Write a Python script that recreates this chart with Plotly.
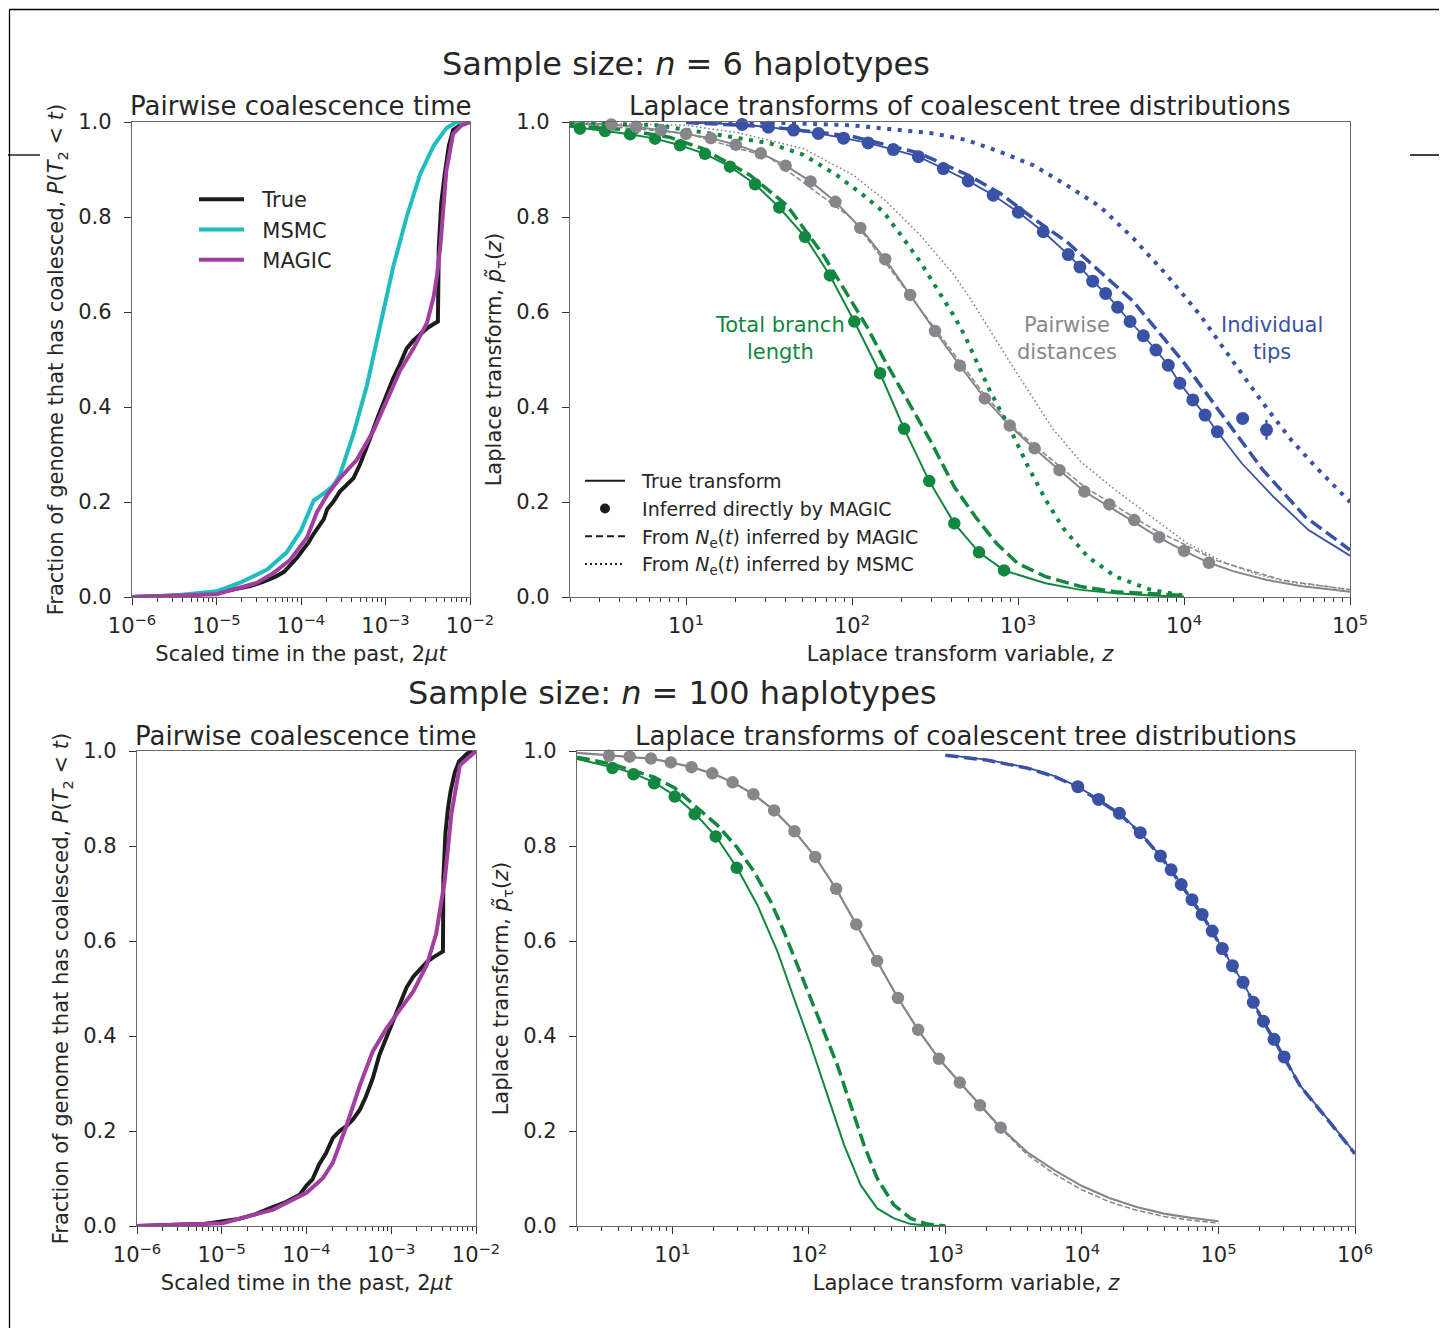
import plotly.graph_objects as go

W, H = 1447, 1328
OFF = 8  # the page body margin shifts the figure by 8 px; layout positions compensate for it
FONT = "DejaVu Sans"
TXT = "#262626"

# ---------------- DATA ----------------
# Top-left: pairwise coalescence time CDF, n = 6 (x given as log10 of scaled time 2*mu*t)
cdf6_true_logt = [-6.0, -5.6, -5.3, -5.0, -4.8, -4.6, -4.45, -4.3, -4.2, -4.13, -4.05, -3.97, -3.91, -3.85,
                  -3.79, -3.73, -3.69, -3.62, -3.54, -3.46, -3.38, -3.30, -3.24, -3.18, -3.10, -3.02, -2.96,
                  -2.91, -2.83, -2.75, -2.67, -2.59, -2.50, -2.41, -2.38, -2.37, -2.34, -2.30, -2.25, -2.2,
                  -2.1, -2.0]
cdf6_true_p = [0.0, 0.002, 0.004, 0.009, 0.015, 0.023, 0.032, 0.043, 0.053, 0.066, 0.082, 0.101, 0.115, 0.133,
               0.148, 0.164, 0.185, 0.2, 0.222, 0.235, 0.25, 0.28, 0.305, 0.335, 0.375, 0.413, 0.44,
               0.46, 0.49, 0.523, 0.54, 0.554, 0.567, 0.577, 0.58, 0.733, 0.83, 0.889, 0.95, 0.983,
               0.995, 1.0]
cdf6_msmc_logt = [-6.0, -5.5, -5.0, -4.72, -4.40, -4.17, -4.0, -3.85, -3.73, -3.62, -3.54, -3.38, -3.22,
                  -3.06, -2.91, -2.75, -2.59, -2.43, -2.28, -2.16, -2.0]
cdf6_msmc_p = [0.0, 0.003, 0.012, 0.03, 0.058, 0.094, 0.14, 0.203, 0.218, 0.234, 0.257, 0.343, 0.445,
               0.57, 0.694, 0.80, 0.89, 0.95, 0.987, 1.0, 1.0]
cdf6_magic_logt = [-6.0, -5.5, -5.0, -4.52, -4.33, -4.13, -3.93, -3.81, -3.69, -3.54, -3.34, -3.14, -2.99,
                   -2.83, -2.67, -2.51, -2.43, -2.39, -2.35, -2.32, -2.28, -2.20, -2.1, -2.0]
cdf6_magic_p = [0.0, 0.002, 0.006, 0.03, 0.05, 0.078, 0.125, 0.179, 0.215, 0.25, 0.289, 0.351, 0.413,
                0.476, 0.523, 0.577, 0.632, 0.678, 0.741, 0.819, 0.897, 0.975, 0.993, 1.0]

# Bottom-left: pairwise coalescence time CDF, n = 100
cdf100_true_logt = [-6.0, -5.5, -5.19, -4.80, -4.60, -4.40, -4.25, -4.08, -4.0, -3.93, -3.85, -3.77, -3.69,
                    -3.61, -3.53, -3.45, -3.37, -3.30, -3.22, -3.14, -3.06, -2.98, -2.90, -2.82, -2.74,
                    -2.66, -2.58, -2.50, -2.42, -2.39, -2.385, -2.36, -2.33, -2.30, -2.25, -2.2, -2.1, -2.0]
cdf100_true_p = [0.0, 0.002, 0.005, 0.015, 0.025, 0.04, 0.05, 0.066, 0.085, 0.098, 0.13, 0.153, 0.185,
                 0.2, 0.21, 0.225, 0.245, 0.272, 0.31, 0.36, 0.395, 0.431, 0.468, 0.502, 0.525,
                 0.542, 0.556, 0.566, 0.575, 0.578, 0.733, 0.828, 0.88, 0.915, 0.955, 0.978, 0.995, 1.0]
cdf100_magic_logt = [-6.0, -5.5, -4.99, -4.4, -4.0, -3.81, -3.69, -3.53, -3.37, -3.22, -3.06, -2.90, -2.74,
                     -2.58, -2.47, -2.37, -2.29, -2.19, -2.07, -2.0]
cdf100_magic_p = [0.0, 0.002, 0.006, 0.034, 0.07, 0.1, 0.133, 0.21, 0.296, 0.367, 0.415, 0.455, 0.494,
                  0.55, 0.615, 0.726, 0.868, 0.97, 0.99, 1.0]

# Top-right: Laplace transforms, n = 6 (x given as log10 z)
lap6_green_true_logz = [0.301, 0.361, 0.512, 0.663, 0.813, 0.964, 1.114, 1.265, 1.416, 1.562, 1.717, 1.867,
                        2.014, 2.169, 2.314, 2.465, 2.616, 2.765, 2.916, 3.166, 3.377, 3.588, 3.8, 4.0]
lap6_green_true_val = [0.990, 0.988, 0.981, 0.974, 0.965, 0.951, 0.933, 0.906, 0.869, 0.820, 0.758, 0.677,
                       0.580, 0.471, 0.354, 0.244, 0.155, 0.094, 0.056, 0.029, 0.015, 0.008, 0.003, 0.001]
lap6_green_dot_logz = [0.361, 0.512, 0.663, 0.813, 0.964, 1.114, 1.265, 1.416, 1.562, 1.717, 1.867, 2.014,
                       2.169, 2.314, 2.465, 2.616, 2.765, 2.916]
lap6_green_dot_val = [0.986, 0.981, 0.974, 0.965, 0.951, 0.933, 0.906, 0.869, 0.820, 0.758, 0.677, 0.580,
                      0.471, 0.354, 0.244, 0.155, 0.094, 0.056]
lap6_green_magic_logz = [0.301, 0.6, 0.9, 1.1, 1.386, 1.607, 1.827, 2.088, 2.194, 2.32, 2.469, 2.616, 2.743,
                         2.87, 2.997, 3.166, 3.377, 3.588, 4.0]
lap6_green_magic_val = [0.992, 0.985, 0.968, 0.944, 0.888, 0.825, 0.72, 0.57, 0.50, 0.422, 0.331, 0.232, 0.169,
                        0.113, 0.071, 0.043, 0.022, 0.011, 0.003]
lap6_green_msmc_logz = [0.301, 0.803, 1.145, 1.506, 1.707, 1.908, 2.068, 2.189, 2.309, 2.410, 2.510, 2.610,
                        2.680, 2.828, 2.955, 3.060, 3.166, 3.272, 3.419, 3.588, 3.80, 4.0]
lap6_green_msmc_val = [0.998, 0.994, 0.976, 0.955, 0.931, 0.888, 0.846, 0.811, 0.755, 0.706, 0.650, 0.594,
                       0.55, 0.436, 0.352, 0.275, 0.205, 0.145, 0.085, 0.043, 0.015, 0.003]

lap6_gray_true_logz = [0.301, 0.55, 0.70, 0.85, 1.0, 1.15, 1.30, 1.45, 1.60, 1.75, 1.90, 2.05, 2.20, 2.35,
                       2.50, 2.65, 2.80, 2.95, 3.10, 3.25, 3.40, 3.55, 3.70, 3.85, 4.00, 4.15, 4.3, 4.5, 4.7, 5.0]
lap6_gray_true_val = [0.998, 0.995, 0.99, 0.983, 0.975, 0.966, 0.952, 0.934, 0.908, 0.875, 0.832, 0.777, 0.711,
                      0.636, 0.56, 0.487, 0.418, 0.361, 0.312, 0.267, 0.222, 0.19, 0.158, 0.125, 0.097, 0.072,
                      0.054, 0.036, 0.023, 0.011]
lap6_gray_dot_logz = [0.55, 0.70, 0.85, 1.0, 1.15, 1.30, 1.45, 1.60, 1.75, 1.90, 2.05, 2.20, 2.35, 2.50, 2.65,
                      2.80, 2.95, 3.10, 3.25, 3.40, 3.55, 3.70, 3.85, 4.00, 4.15]
lap6_gray_dot_val = [0.995, 0.99, 0.983, 0.975, 0.966, 0.952, 0.934, 0.908, 0.875, 0.832, 0.777, 0.711, 0.636,
                     0.56, 0.487, 0.418, 0.361, 0.313, 0.267, 0.222, 0.195, 0.162, 0.126, 0.097, 0.072]
lap6_gray_magic_logz = [0.301, 1.0, 1.5, 2.0, 2.5, 2.8, 3.0, 3.4, 3.8, 4.2, 4.6, 5.0]
lap6_gray_magic_val = [0.998, 0.976, 0.926, 0.797, 0.565, 0.425, 0.348, 0.232, 0.146, 0.076, 0.035, 0.015]
lap6_gray_msmc_logz = [0.301, 1.0, 1.305, 1.707, 2.008, 2.209, 2.41, 2.61, 2.711, 2.955, 3.208, 3.377, 3.588,
                       3.80, 4.011, 4.222, 4.434, 4.645, 5.0]
lap6_gray_msmc_val = [0.999, 0.993, 0.978, 0.944, 0.888, 0.832, 0.762, 0.68, 0.629, 0.492, 0.355, 0.285, 0.225,
                      0.169, 0.115, 0.076, 0.048, 0.031, 0.016]

lap6_blue_true_logz = [1.0, 1.338, 1.496, 1.648, 1.797, 1.949, 2.097, 2.249, 2.40, 2.55, 2.70, 2.851, 3.002,
                       3.152, 3.303, 3.373, 3.45, 3.528, 3.60, 3.675, 3.755, 3.831, 3.905, 3.975, 4.053, 4.127,
                       4.201, 4.349, 4.539, 4.75, 5.0]
lap6_blue_true_val = [0.999, 0.995, 0.989, 0.983, 0.976, 0.966, 0.956, 0.942, 0.927, 0.902, 0.876, 0.846, 0.81,
                      0.769, 0.721, 0.695, 0.665, 0.639, 0.61, 0.58, 0.55, 0.52, 0.488, 0.45, 0.415, 0.383,
                      0.348, 0.281, 0.211, 0.141, 0.087]
lap6_blue_dot_logz = [1.338, 1.496, 1.648, 1.797, 1.949, 2.097, 2.249, 2.40, 2.55, 2.70, 2.851, 3.002, 3.152,
                      3.303, 3.373, 3.45, 3.528, 3.60, 3.675, 3.755, 3.831, 3.905, 3.975, 4.053, 4.127, 4.201,
                      4.353, 4.497]
lap6_blue_dot_val = [0.995, 0.989, 0.983, 0.976, 0.966, 0.956, 0.942, 0.927, 0.902, 0.876, 0.846, 0.81, 0.769,
                     0.721, 0.695, 0.665, 0.639, 0.61, 0.58, 0.55, 0.52, 0.488, 0.45, 0.415, 0.383, 0.348,
                     0.376, 0.352]
lap6_blue_dot_err = [0] * 26 + [0.008, 0.021]
lap6_blue_magic_logz = [1.0, 1.5, 2.0, 2.4, 2.7, 2.892, 3.092, 3.293, 3.494, 3.695, 3.896, 3.996, 4.222, 4.476,
                        4.73, 5.0]
lap6_blue_magic_val = [0.999, 0.99, 0.97, 0.935, 0.888, 0.85, 0.797, 0.748, 0.685, 0.622, 0.537, 0.495, 0.387,
                       0.267, 0.169, 0.099]
lap6_blue_msmc_logz = [1.0, 1.5, 2.0, 2.289, 2.490, 2.691, 2.892, 3.092, 3.293, 3.494, 3.695, 3.896, 4.096,
                       4.297, 4.476, 4.645, 4.793, 5.0]
lap6_blue_msmc_val = [1.0, 0.999, 0.993, 0.983, 0.976, 0.962, 0.937, 0.909, 0.867, 0.822, 0.755, 0.678, 0.594,
                      0.495, 0.408, 0.331, 0.274, 0.2]

# Bottom-right: Laplace transforms, n = 100
lap100_green_true_logz = [0.301, 0.561, 0.715, 0.866, 1.017, 1.163, 1.317, 1.471, 1.622, 1.769, 1.891, 2.013,
                          2.135, 2.257, 2.379, 2.50, 2.623, 2.745, 2.87, 3.0]
lap100_green_true_val = [0.983, 0.966, 0.953, 0.934, 0.906, 0.869, 0.821, 0.755, 0.676, 0.578, 0.479, 0.381,
                         0.276, 0.171, 0.086, 0.037, 0.016, 0.004, 0.001, 0.0]
lap100_green_dot_logz = [0.561, 0.715, 0.866, 1.017, 1.163, 1.317, 1.471]
lap100_green_dot_val = [0.964, 0.951, 0.932, 0.904, 0.867, 0.82, 0.754]
lap100_green_magic_logz = [0.301, 0.561, 0.866, 1.017, 1.159, 1.329, 1.476, 1.598, 1.720, 1.817, 1.915, 2.013,
                           2.11, 2.208, 2.305, 2.403, 2.50, 2.623, 2.745, 2.867, 3.0]
lap100_green_magic_val = [0.987, 0.972, 0.945, 0.922, 0.886, 0.844, 0.796, 0.746, 0.683, 0.62, 0.549, 0.479,
                          0.409, 0.339, 0.255, 0.171, 0.1, 0.044, 0.016, 0.004, 0.0]

lap100_gray_true_logz = [0.301, 0.535, 0.687, 0.843, 0.988, 1.140, 1.292, 1.441, 1.593, 1.745, 1.894, 2.046,
                         2.199, 2.347, 2.499, 2.652, 2.800, 2.952, 3.105, 3.253, 3.405, 3.6, 3.8, 4.0, 4.2, 4.4,
                         4.6, 4.8, 5.0]
lap100_gray_true_val = [0.996, 0.991, 0.988, 0.984, 0.976, 0.966, 0.953, 0.934, 0.909, 0.875, 0.831, 0.777,
                        0.710, 0.635, 0.558, 0.480, 0.413, 0.352, 0.302, 0.254, 0.207, 0.155, 0.117, 0.084,
                        0.059, 0.040, 0.026, 0.017, 0.010]
lap100_gray_dot_logz = [0.535, 0.687, 0.843, 0.988, 1.140, 1.292, 1.441, 1.593, 1.745, 1.894, 2.046, 2.199,
                        2.347, 2.499, 2.652, 2.800, 2.952, 3.105, 3.253, 3.405]
lap100_gray_dot_val = [0.990, 0.988, 0.984, 0.976, 0.966, 0.953, 0.934, 0.909, 0.875, 0.831, 0.777, 0.710,
                       0.635, 0.558, 0.480, 0.413, 0.352, 0.302, 0.254, 0.207]
lap100_gray_magic_logz = [0.301, 0.535, 0.687, 0.843, 0.988, 1.140, 1.292, 1.441, 1.593, 1.745, 1.894, 2.046,
                          2.199, 2.347, 2.499, 2.652, 2.800, 2.952, 3.105, 3.253, 3.405, 3.6, 3.8, 4.0, 4.2,
                          4.4, 4.6, 4.8, 5.0]
lap100_gray_magic_val = [0.996, 0.991, 0.988, 0.984, 0.976, 0.966, 0.953, 0.934, 0.909, 0.875, 0.831, 0.777,
                         0.710, 0.635, 0.558, 0.480, 0.413, 0.352, 0.302, 0.254, 0.205, 0.150, 0.109, 0.076,
                         0.051, 0.033, 0.020, 0.012, 0.006]

lap100_blue_true_logz = [3.0, 3.3, 3.6, 3.8, 3.97, 4.122, 4.274, 4.427, 4.575, 4.653, 4.727, 4.806, 4.880,
                         4.954, 5.028, 5.102, 5.180, 5.255, 5.329, 5.407, 5.481, 5.6, 5.8, 6.0]
lap100_blue_true_val = [0.992, 0.982, 0.965, 0.947, 0.925, 0.898, 0.869, 0.828, 0.779, 0.75, 0.719, 0.687,
                        0.656, 0.621, 0.584, 0.548, 0.513, 0.471, 0.431, 0.393, 0.356, 0.295, 0.225, 0.153]
lap100_blue_magic_val = [0.991, 0.981, 0.964, 0.946, 0.924, 0.897, 0.868, 0.827, 0.778, 0.749, 0.718, 0.686,
                         0.655, 0.620, 0.583, 0.547, 0.512, 0.470, 0.430, 0.392, 0.355, 0.294, 0.224, 0.152]
lap100_blue_dot_logz = [3.970, 4.122, 4.274, 4.427, 4.575, 4.653, 4.727, 4.806, 4.880, 4.954, 5.028, 5.102,
                        5.180, 5.255, 5.329, 5.407, 5.481]
lap100_blue_dot_val = [0.925, 0.898, 0.869, 0.828, 0.779, 0.750, 0.719, 0.687, 0.656, 0.621, 0.584, 0.548,
                       0.513, 0.471, 0.431, 0.393, 0.356]

# Tick labels
cdf_tick_exp = [-6, -5, -4, -3, -2]
lap6_tick_exp = [1, 2, 3, 4, 5]
lap100_tick_exp = [1, 2, 3, 4, 5, 6]
y_ticks = [0.0, 0.2, 0.4, 0.6, 0.8, 1.0]

# Colours
C_TRUE, C_MSMC, C_MAGIC = "#1c1c1c", "#1fbcc0", "#a13ea0"
C_GREEN, C_GRAY, C_BLUE = "#12873f", "#87878b", "#3a52a5"


def pw(vals):
    return [10 ** v for v in vals]


def sup(e):
    s = str(e).replace("-", "\u2212")
    return "10<sup>" + s + "</sup>"


def minor_vals(lo, hi):
    out = []
    for e in range(lo, hi):
        for k in range(2, 10):
            out.append(k * 10 ** e)
    return out


fig = go.Figure()


def line(x, y, color, width, dash="solid", ax=""):
    fig.add_trace(go.Scatter(x=x, y=y, mode="lines", line=dict(color=color, width=width, dash=dash),
                             xaxis="x" + ax, yaxis="y" + ax, showlegend=False, hoverinfo="skip"))


def dots(x, y, color, size, ax, err=None):
    fig.add_trace(go.Scatter(x=x, y=y, mode="markers", marker=dict(color=color, size=size, line=dict(width=0)),
                             xaxis="x" + ax, yaxis="y" + ax, showlegend=False, hoverinfo="skip",
                             cliponaxis=False,
                             error_y=(dict(type="data", array=err, visible=True, color=color, thickness=2.2,
                                           width=0) if err else None)))


NB = "&nbsp;&nbsp;"

# ---- top-left
for xs, ys, c, nm in [(cdf6_true_logt, cdf6_true_p, C_TRUE, "True"),
                      (cdf6_msmc_logt, cdf6_msmc_p, C_MSMC, "MSMC"),
                      (cdf6_magic_logt, cdf6_magic_p, C_MAGIC, "MAGIC")]:
    fig.add_trace(go.Scatter(x=pw(xs), y=ys, mode="lines", line=dict(color=c, width=4), name=NB + nm,
                             xaxis="x", yaxis="y", legend="legend", hoverinfo="skip"))

# ---- bottom-left
line(pw(cdf100_true_logt), cdf100_true_p, C_TRUE, 4, ax="3")
line(pw(cdf100_magic_logt), cdf100_magic_p, C_MAGIC, 4, ax="3")

# ---- top-right
ax = "2"
line(pw(lap6_gray_msmc_logz), lap6_gray_msmc_val, C_GRAY, 1.6, "1.6px,2.6px", ax)
line(pw(lap6_green_true_logz), lap6_green_true_val, C_GREEN, 2, ax=ax)
line(pw(lap6_gray_true_logz), lap6_gray_true_val, C_GRAY, 2, ax=ax)
line(pw(lap6_blue_true_logz), lap6_blue_true_val, C_BLUE, 1.8, ax=ax)
line(pw(lap6_green_magic_logz), lap6_green_magic_val, C_GREEN, 3.5, "13px,5.6px", ax)
line(pw(lap6_gray_magic_logz), lap6_gray_magic_val, C_GRAY, 1.5, "5.5px,2.4px", ax)
line(pw(lap6_blue_magic_logz), lap6_blue_magic_val, C_BLUE, 3.5, "13px,5.6px", ax)
line(pw(lap6_green_msmc_logz), lap6_green_msmc_val, C_GREEN, 4, "4px,6.6px", ax)
line(pw(lap6_blue_msmc_logz), lap6_blue_msmc_val, C_BLUE, 4, "4px,6.6px", ax)
dots(pw(lap6_green_dot_logz), lap6_green_dot_val, C_GREEN, 12.5, ax)
dots(pw(lap6_gray_dot_logz), lap6_gray_dot_val, C_GRAY, 12.5, ax)
dots(pw(lap6_blue_dot_logz), lap6_blue_dot_val, C_BLUE, 13, ax, err=lap6_blue_dot_err)

# legend entries for right panel
for nm, mode, dash in [("True transform", "lines", "solid"),
                       ("Inferred directly by MAGIC", "markers", None),
                       ("From <i>N</i><sub>e</sub>(<i>t</i>) inferred by MAGIC", "lines", "7px,4px"),
                       ("From <i>N</i><sub>e</sub>(<i>t</i>) inferred by MSMC", "lines", "2px,3px")]:
    kw = dict(x=[None], y=[None], mode=mode, name=NB + nm, legend="legend2", xaxis="x2", yaxis="y2",
              hoverinfo="skip")
    if mode == "lines":
        kw["line"] = dict(color=C_TRUE, width=2, dash=dash)
    else:
        kw["marker"] = dict(color=C_TRUE, size=10)
    fig.add_trace(go.Scatter(**kw))

# ---- bottom-right
ax = "4"
line(pw(lap100_green_true_logz), lap100_green_true_val, C_GREEN, 2, ax=ax)
line(pw(lap100_gray_true_logz), lap100_gray_true_val, C_GRAY, 2.2, ax=ax)
line(pw(lap100_blue_true_logz), lap100_blue_true_val, C_BLUE, 1.8, ax=ax)
line(pw(lap100_green_magic_logz), lap100_green_magic_val, C_GREEN, 3.5, "13px,5.6px", ax)
line(pw(lap100_gray_magic_logz), lap100_gray_magic_val, C_GRAY, 1.5, "5.5px,2.4px", ax)
line(pw(lap100_blue_true_logz), lap100_blue_magic_val, C_BLUE, 3.5, "13px,5.6px", ax)
dots(pw(lap100_green_dot_logz), lap100_green_dot_val, C_GREEN, 12.5, ax)
dots(pw(lap100_gray_dot_logz), lap100_gray_dot_val, C_GRAY, 12.5, ax)
dots(pw(lap100_blue_dot_logz), lap100_blue_dot_val, C_BLUE, 13, ax)


# ---------------- LAYOUT ----------------
def fx(px):  # page pixel -> paper x
    return (px - OFF) / W


def fy(py):  # page pixel -> paper y
    return 1 - (py - OFF) / H


tickfont = dict(family=FONT, size=21, color=TXT)
titlefont = dict(family=FONT, size=21, color=TXT)
common = dict(showline=True, linecolor="#6a6a6a", linewidth=1.3, mirror=True, showgrid=False, zeroline=False,
              ticks="outside", ticklen=7, tickwidth=1.4, tickcolor="#333333", tickfont=tickfont,
              automargin=False)


def xlog(domain, rng, exps, mlo, mhi, anchor, title):
    d = dict(common)
    d.update(type="log", domain=domain, range=rng, anchor=anchor, tickmode="array",
             tickvals=[10 ** e for e in exps], ticktext=[sup(e) for e in exps], ticklabelstandoff=3,
             minor=dict(tickmode="array", tickvals=minor_vals(mlo, mhi), ticks="outside", ticklen=4,
                        tickwidth=1.1, tickcolor="#333333", showgrid=False),
             title=dict(text=title, font=titlefont, standoff=8))
    return d


def ylin(domain, anchor, title, standoff):
    d = dict(common)
    d.update(domain=domain, range=[0, 1], anchor=anchor, tickmode="array", tickvals=y_ticks,
             ticktext=["%.1f" % v for v in y_ticks], ticklabelstandoff=8,
             title=dict(text=title, font=titlefont, standoff=standoff))
    return d


ytitle_cdf = "Fraction of genome that has coalesced, <i>P</i>(<i>T</i><sub>2</sub> &lt; <i>t</i>)"
ytitle_lap = "Laplace transform, <i>p̃</i><sub>τ</sub>(<i>z</i>)"
xtitle_cdf = "Scaled time in the past, 2<i>μt</i>"
xtitle_lap = "Laplace transform variable, <i>z</i>"

top_y = [fy(597), fy(122)]
bot_y = [fy(1226), fy(751)]

fig.update_layout(
    template="none",
    width=W, height=H, margin=dict(l=0, r=0, t=0, b=0, pad=0), autosize=False,
    paper_bgcolor="white", plot_bgcolor="white",
    font=dict(family=FONT, color=TXT, size=21),
    xaxis=xlog([fx(132), fx(470)], [-6, -2], cdf_tick_exp, -6, -2, "y", xtitle_cdf),
    yaxis=ylin(top_y, "x", ytitle_cdf, 8),
    xaxis2=xlog([fx(570), fx(1350)], [0.30103, 5], lap6_tick_exp, 0, 5, "y2", xtitle_lap),
    yaxis2=ylin(top_y, "x2", ytitle_lap, 8),
    xaxis3=xlog([fx(137), fx(476)], [-6, -2], cdf_tick_exp, -6, -2, "y3", xtitle_cdf),
    yaxis3=ylin(bot_y, "x3", ytitle_cdf, 8),
    xaxis4=xlog([fx(577), fx(1355)], [0.30103, 6], lap100_tick_exp, 0, 6, "y4", xtitle_lap),
    yaxis4=ylin(bot_y, "x4", ytitle_lap, 8),
    legend=dict(x=fx(194), y=fy(179), xanchor="left", yanchor="top", bgcolor="rgba(0,0,0,0)",
                font=dict(family=FONT, size=21, color=TXT), tracegroupgap=0, itemwidth=45,
                borderwidth=0),
    legend2=dict(x=fx(580), y=fy(462), xanchor="left", yanchor="top", bgcolor="rgba(0,0,0,0)",
                 font=dict(family=FONT, size=19, color=TXT), tracegroupgap=0, itemwidth=40,
                 borderwidth=0),
)

ann = []


def label(text, x, y, size, color=TXT, xref="paper", yref="paper"):
    ann.append(dict(text=text, x=x, y=y, xref=xref, yref=yref, showarrow=False, xanchor="center",
                    yanchor="middle", align="center", font=dict(family=FONT, size=size, color=color)))


label("Sample size: <i>n</i> = 6 haplotypes", fx(686), fy(64), 32)
label("Sample size: <i>n</i> = 100 haplotypes", fx(672), fy(693), 32)
label("Pairwise coalescence time", fx(301), fy(106), 26)
label("Laplace transforms of coalescent tree distributions", fx(960), fy(106), 26)
label("Pairwise coalescence time", fx(306), fy(736), 26)
label("Laplace transforms of coalescent tree distributions", fx(966), fy(736), 26)
label("Total branch<br>length", 1.566, 0.545, 21, C_GREEN, "x2", "y2")
label("Pairwise<br>distances", 3.295, 0.545, 21, C_GRAY, "x2", "y2")
label("Individual<br>tips", 4.53, 0.545, 21, C_BLUE, "x2", "y2")
fig.update_layout(annotations=ann)

# page frame (decorative border lines of the scanned page)
frame = dict(color="black", width=1.3)
shapes = [
    dict(type="line", xref="paper", yref="paper", x0=fx(9.5), x1=fx(1441.5), y0=fy(9.5), y1=fy(9.5), line=frame),
    dict(type="line", xref="paper", yref="paper", x0=fx(9.5), x1=fx(9.5), y0=fy(9.5), y1=0, line=frame),
    dict(type="line", xref="paper", yref="paper", x0=fx(1441.5), x1=fx(1441.5), y0=fy(9.5), y1=0, line=frame),
    dict(type="line", xref="paper", yref="paper", x0=0, x1=fx(40), y0=fy(155), y1=fy(155), line=frame),
    dict(type="line", xref="paper", yref="paper", x0=fx(1410), x1=fx(1447), y0=fy(155), y1=fy(155), line=frame),
]
fig.update_layout(shapes=shapes)

fig.write_html("out.html")
